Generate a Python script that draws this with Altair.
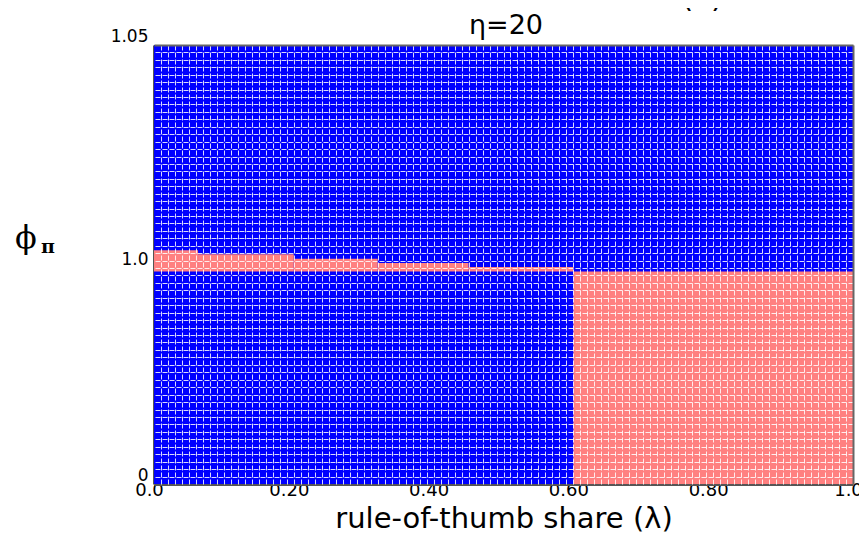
import altair as alt
import pandas as pd

# ---- data: determinacy regions (lambda x phi_pi) ----
lam_lo = [0.0, 0.0, 0.063, 0.20, 0.32, 0.45, 0.60]
lam_hi = [1.0, 0.063, 0.20, 0.32, 0.45, 0.60, 1.0]
phi_lo = [0.0, 0.984, 0.984, 0.984, 0.984, 0.984, 0.0]
phi_hi = [1.05, 1.0040, 1.0031, 1.0021, 1.0011, 1.0002, 0.984]
kind = ["determinate"] + ["indeterminate"] * 6

kinds = ["determinate", "indeterminate"]
colors = ["#0000FF", "#FF8080"]

x_tick_vals = [0.0, 0.2, 0.4, 0.6, 0.8, 1.0]
x_tick_labels = ["0.0", "0.20", "0.40", "0.60", "0.80", "1.0"]
y_tick_vals = [0.0, 1.0, 1.05]
y_tick_labels = ["0", "1.0", "1.05"]

title_text = ["η=20"]
x_title = "rule-of-thumb share (λ)"
y_title_main = ["ϕ"]
y_title_sub = ["π"]
top_fragment = ["(λ)"]

# grid positions (style only): 100 columns, 29 rows below 1.0, 30 rows above
grid_x = [i / 100 for i in range(1, 100)]
grid_y = [i / 29 for i in range(1, 29)] + [1.0 + 0.05 * j / 30 for j in range(0, 30)]

df = pd.DataFrame({"lam_lo": lam_lo, "lam_hi": lam_hi,
                   "phi_lo": phi_lo, "phi_hi": phi_hi, "kind": kind})


def label_expr(vals, labels):
    expr = "''"
    for v, l in zip(reversed(vals), reversed(labels)):
        expr = f"abs(datum.value - {v}) < 1e-9 ? '{l}' : ({expr})"
    return expr


W, H = 699, 439
xscale = alt.Scale(domain=[0, 1], nice=False, zero=False)
yscale = alt.Scale(domain=[0, 1.0, 1.05], range=[H, 223, 0], nice=False, zero=False)
FONT = "DejaVu Sans"

main = alt.Chart(df).mark_rect(strokeWidth=0).encode(
    x=alt.X("lam_lo:Q", scale=xscale, axis=alt.Axis(
        orient="bottom", values=x_tick_vals,
        labelExpr=label_expr(x_tick_vals, x_tick_labels),
        grid=False, ticks=False, domain=True, domainColor="#555555", domainWidth=3,
        labelFont=FONT, labelFontSize=18, labelColor="black",
        labelBaseline="top", labelPadding=-3, labelOffset=-5,
        labelFlush=False, labelOverlap=False,
        title=x_title, titleFont=FONT, titleFontSize=29, titleFontWeight="normal",
        titleColor="black", titleBaseline="alphabetic", titleY=43)),
    x2="lam_hi:Q",
    y=alt.Y("phi_lo:Q", scale=yscale, axis=alt.Axis(
        orient="left", values=y_tick_vals,
        labelExpr=label_expr(y_tick_vals, y_tick_labels),
        grid=False, ticks=False, domain=True, domainColor="#555555", domainWidth=3,
        labelFont=FONT, labelFontSize=17, labelColor="black",
        labelBaseline="bottom", labelPadding=6,
        labelFlush=False, labelOverlap=False, title=None)),
    y2="phi_hi:Q",
    color=alt.Color("kind:N", scale=alt.Scale(domain=kinds, range=colors), legend=None),
)

gridlayer = alt.Chart(df).mark_rect(opacity=0).encode(
    x=alt.X("lam_lo:Q", scale=xscale, axis=alt.Axis(
        orient="top", values=grid_x, grid=True, gridColor="white", gridOpacity=0.85,
        gridDash=[5, 2], gridWidth=1, labels=False, ticks=False,
        domain=True, domainColor="#666666", domainWidth=2, title=None, zindex=1)),
    x2="lam_hi:Q",
    y=alt.Y("phi_lo:Q", scale=yscale, axis=alt.Axis(
        orient="right", values=grid_y, grid=True, gridColor="white", gridOpacity=0.85,
        gridDash=[5, 2], gridWidth=1, labels=False, ticks=False,
        domain=True, domainColor="#666666", domainWidth=2, title=None, zindex=1)),
    y2="phi_hi:Q",
)

title_mark = alt.Chart(pd.DataFrame({"t": title_text})).mark_text(
    font=FONT, fontSize=27, color="black", align="center", baseline="alphabetic"
).encode(text="t:N", x=alt.value(352), y=alt.value(-11))

phi_text = alt.Chart(pd.DataFrame({"t": y_title_main})).mark_text(
    font="DejaVu Serif", fontSize=32, color="black", align="center", baseline="middle"
).encode(text="t:N", x=alt.value(-128), y=alt.value(193))

pi_text = alt.Chart(pd.DataFrame({"t": y_title_sub})).mark_text(
    font="DejaVu Serif", fontSize=19, fontWeight="bold", color="black",
    align="center", baseline="middle"
).encode(text="t:N", x=alt.value(-106), y=alt.value(202))

frag_text = alt.Chart(pd.DataFrame({"t": top_fragment})).mark_text(
    font=FONT, fontSize=30, color="black", align="center", baseline="alphabetic"
).encode(text="t:N", x=alt.value(548), y=alt.value(-38))

chart = alt.layer(main, gridlayer, title_mark, phi_text, pi_text, frag_text).resolve_axis(
    x="independent", y="independent"
).properties(
    width=W, height=H,
    autosize=alt.AutoSizeParams(type="none"),
    padding={"left": 146, "top": 37, "right": 6, "bottom": 52},
).configure_view(stroke=None).configure(background="white")

chart.save("out.html", embed_options={"renderer": "svg", "actions": False})
